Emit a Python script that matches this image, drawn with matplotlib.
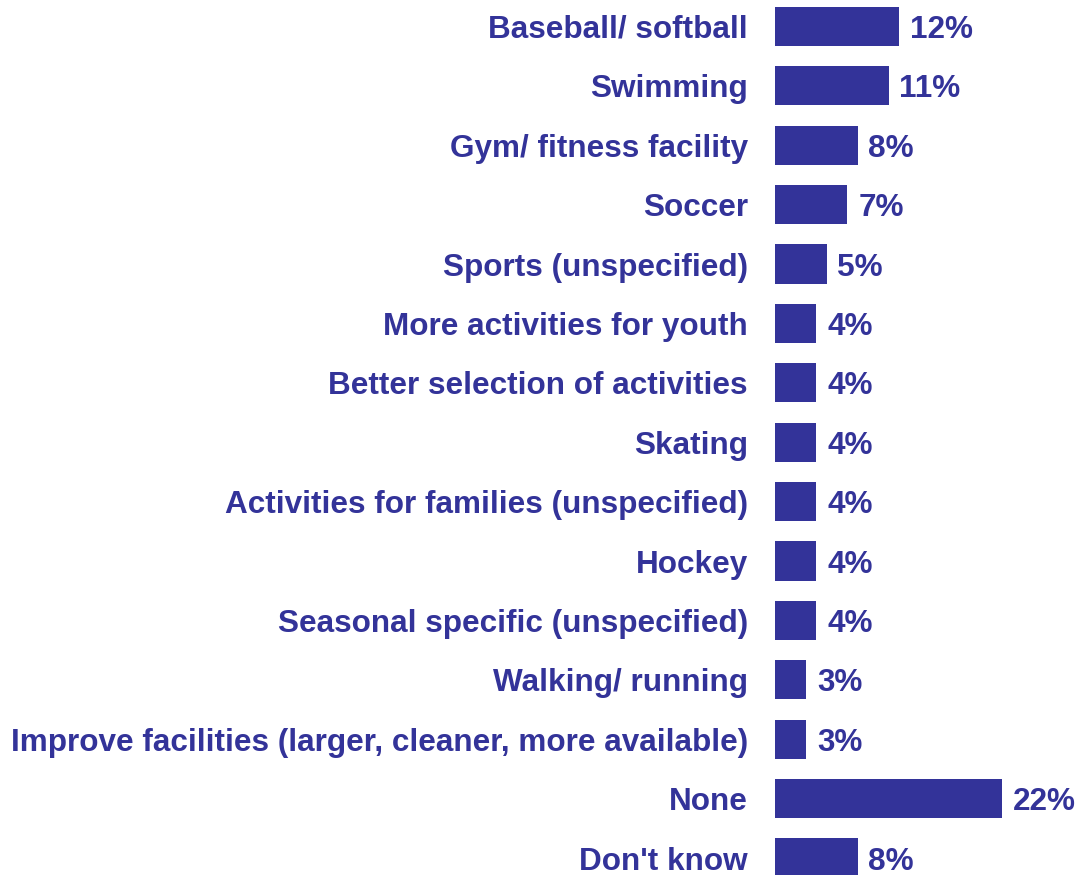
import matplotlib
matplotlib.use("Agg")
import matplotlib.pyplot as plt

# responses, top to bottom
labels = [
    "Baseball/ softball",
    "Swimming",
    "Gym/ fitness facility",
    "Soccer",
    "Sports (unspecified)",
    "More activities for youth",
    "Better selection of activities",
    "Skating",
    "Activities for families (unspecified)",
    "Hockey",
    "Seasonal specific (unspecified)",
    "Walking/ running",
    "Improve facilities (larger, cleaner, more available)",
    "None",
    "Don't know",
]
values = [12, 11, 8, 7, 5, 4, 4, 4, 4, 4, 4, 3, 3, 22, 8]

navy = "#333399"
plt.rcParams["font.family"] = ["Liberation Sans", "DejaVu Sans"]

fig = plt.figure(figsize=(10.78, 8.75), dpi=100)
ax = fig.add_axes([775 / 1078, 0, 1 - 775 / 1078, 1])

pos = list(range(len(labels)))
ax.barh(pos, values, height=0.66, color=navy)
ax.set_xlim(0, 303 / 10.33)
ax.set_ylim(len(labels) - 1 + 17 / 59.4, -26.5 / 59.4)

for y, v in zip(pos, values):
    ax.text(v + 1.05, y, f"{v}%", va="center_baseline", ha="left",
            fontsize=22.7, fontweight="bold", color=navy)

ax.set_yticks(pos)
ax.set_yticklabels(labels, fontsize=22.7, fontweight="bold", color=navy)
ax.tick_params(axis="y", length=0, pad=19.5)
ax.set_xticks([])
for s in ax.spines.values():
    s.set_visible(False)

fig.savefig("out.png", dpi=100)
